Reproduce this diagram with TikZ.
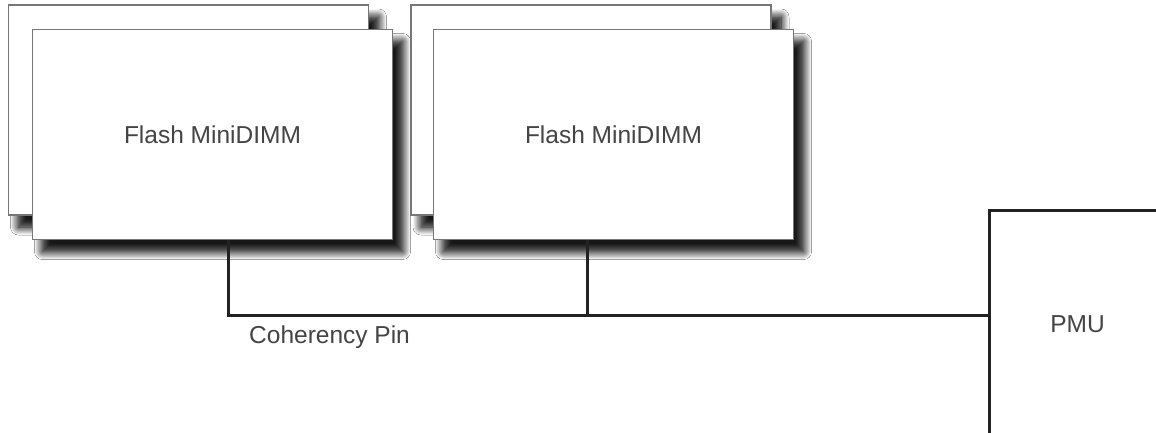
\documentclass[tikz,border=0pt]{standalone}
\usepackage{fontspec}
\setmainfont{Liberation Sans}
\usetikzlibrary{shadows.blur}
\definecolor{txtgray}{HTML}{444444}
\definecolor{boxgray}{HTML}{777777}
\definecolor{wire}{HTML}{222222}
\begin{document}
\begin{tikzpicture}[x=1pt,y=-1pt,
  lbl/.style={font=\fontsize{24.5}{29}\selectfont, text=txtgray},
  dimm/.style={draw=boxgray, line width=1.3pt, fill=white, minimum width=360pt, minimum height=210pt, inner sep=0pt,
    blur shadow={shadow xshift=13pt, shadow yshift=-16pt, shadow blur radius=14pt, shadow blur steps=16, shadow opacity=100},
    blur shadow={shadow xshift=10pt, shadow yshift=-12pt, shadow blur radius=8pt, shadow blur steps=10, shadow opacity=70}},
  pmubox/.style={draw=wire, line width=3pt, fill=white, minimum width=176pt, minimum height=228pt, inner sep=0pt},
  wireline/.style={draw=wire, line width=3pt}
]
\useasboundingbox (0,0) rectangle (1156,432);
\fill[white] (0,0) rectangle (1156,432);
\node[dimm] (bl) at (188.5,110) {};
\node[dimm, lbl] (fl) at (212.5,134.5) {Flash MiniDIMM};
\node[dimm] (br) at (591,110) {};
\node[dimm, lbl] (fr) at (613.5,134.5) {Flash MiniDIMM};
\node[pmubox, lbl, anchor=north west] (pmu) at (988,209) {PMU};
\coordinate (j1) at (228,315);
\coordinate (j2) at (587,315);
\draw[wireline] (fl.south -| j1) -- (j1) -- (pmu.west |- j1);
\draw[wireline] (fr.south -| j2) -- (j2);
\node[lbl, anchor=base west, inner sep=0pt] (cp) at (249,343) {Coherency Pin};
\end{tikzpicture}
\end{document}
